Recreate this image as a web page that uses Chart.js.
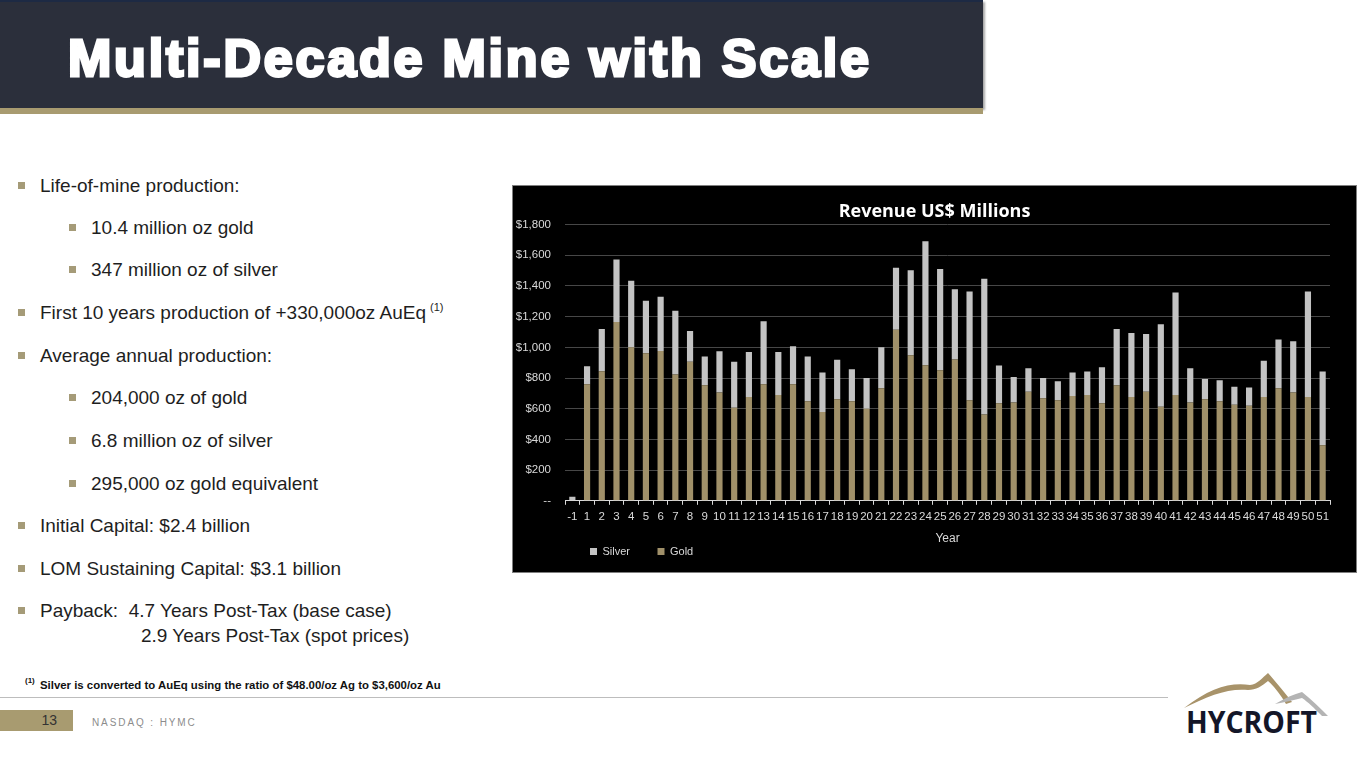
<!DOCTYPE html>
<html>
<head>
<meta charset="utf-8">
<script src="https://cdn.jsdelivr.net/npm/chart.js@4.4.1/dist/chart.umd.min.js"></script>
<style>
  html,body{margin:0;padding:0;background:#fff;}
  body{width:1364px;height:766px;position:relative;overflow:hidden;font-family:"Liberation Sans",Arial,sans-serif;}
  .titlebar{position:absolute;left:0;top:0;width:983px;height:108px;background:#2b2f3b;border-top:2px solid #1d2a44;box-sizing:border-box;box-shadow:2px 2px 2px rgba(0,0,0,.35);}
  .titlebar .strip{position:absolute;left:0;right:0;bottom:-6px;height:6px;background:#a89b70;}
  .titlebar h1{position:absolute;left:68px;top:26px;margin:0;color:#fff;font:bold 52px "Liberation Sans",Arial,sans-serif;letter-spacing:2.8px;-webkit-text-stroke:3px #fff;white-space:nowrap;}
  .bul{position:absolute;color:#1e1e1e;font-size:19px;white-space:nowrap;line-height:22px;}
  .bul.b:before{content:"";position:absolute;left:-22px;top:7px;width:7px;height:7px;background:#a59b78;}
  .l1{left:40px}
  .l2{left:91px}
  .bul sup{font-size:11px;line-height:0;vertical-align:8px;margin-left:4px;}
  #box{position:absolute;left:512px;top:185px;width:845px;height:388px;background:#000;border:1px solid #7f7f7f;box-sizing:border-box;}
  .foot{position:absolute;left:40px;top:679px;font:bold 11.4px "Liberation Sans",Arial,sans-serif;color:#111;white-space:nowrap;}
  .foot sup{position:absolute;left:-15px;top:-3px;font-size:8px;}
  .rule{position:absolute;left:0;top:697px;width:1168px;height:1px;background:#bdbdbd;}
  .pg{position:absolute;left:0;top:710px;width:73px;height:21px;background:#a89b70;color:#333;font-size:14px;line-height:21px;text-align:right;box-sizing:border-box;padding-right:16px;}
  .nas{position:absolute;left:92px;top:717px;font-size:10px;letter-spacing:1.9px;color:#8c8c8c;white-space:nowrap;}
  .logo{position:absolute;left:1180px;top:668px;}
</style>
</head>
<body>
<div class="titlebar"><h1>Multi-Decade Mine with Scale</h1><div class="strip"></div></div>

<div class="bul b l1" style="top:175px">Life-of-mine production:</div>
<div class="bul b l2" style="top:217px">10.4 million oz gold</div>
<div class="bul b l2" style="top:259px">347 million oz of silver</div>
<div class="bul b l1" style="top:302px">First 10 years production of +330,000oz AuEq<sup>(1)</sup></div>
<div class="bul b l1" style="top:345px">Average annual production:</div>
<div class="bul b l2" style="top:387px">204,000 oz of gold</div>
<div class="bul b l2" style="top:430px">6.8 million oz of silver</div>
<div class="bul b l2" style="top:473px">295,000 oz gold equivalent</div>
<div class="bul b l1" style="top:515px">Initial Capital: $2.4 billion</div>
<div class="bul b l1" style="top:558px">LOM Sustaining Capital: $3.1 billion</div>
<div class="bul b l1" style="top:600px">Payback:&nbsp; 4.7 Years Post-Tax (base case)</div>
<div class="bul" style="left:141px;top:625px">2.9 Years Post-Tax (spot prices)</div>

<div id="box"><canvas id="chart"></canvas></div>

<div class="foot"><sup>(1)</sup>Silver is converted to AuEq using the ratio of $48.00/oz Ag to $3,600/oz Au</div>
<div class="rule"></div>
<div class="pg">13</div>
<div class="nas">NASDAQ : HYMC</div>
<div class="logo">
  <svg width="160" height="70" viewBox="0 0 160 70">
    <path d="M4 40 C30 20 50 14 70 17 C78 16 82 10 88 5 C96 14 104 24 112 34 L106 36 C100 26 94 18 88 13 C82 18 76 22 68 22 C48 20 28 28 4 40 Z" fill="#a8936a"/>
    <path d="M95 36 C105 30 114 26 122 24 C132 32 140 40 148 48 L142 48 C134 40 128 34 122 30 C114 32 106 34 95 36 Z" fill="#b4b4b4"/>
    <text x="6" y="65" font-family="'Open Sans','Liberation Sans',sans-serif" font-weight="bold" font-size="30" fill="#141628" textLength="131" lengthAdjust="spacingAndGlyphs">HYCROFT</text>
  </svg>
</div>

<script>
// Revenue by year, US$ millions
const years = ['-1','1','2','3','4','5','6','7','8','9','10','11','12','13','14','15','16','17','18','19','20',
  '21','22','23','24','25','26','27','28','29','30','31','32','33','34','35','36','37','38','39','40',
  '41','42','43','44','45','46','47','48','49','50','51'];
const gold = [0,759,844,1165,1001,962,977,823,906,753,705,607,676,759,690,759,648,578,661,648,600,
  733,1115,949,884,851,921,655,563,635,641,711,668,655,683,690,635,753,676,711,613,
  690,641,661,648,626,620,676,733,705,676,362];
const silver = [26,118,275,408,433,341,352,416,200,187,270,299,293,411,279,249,292,258,258,210,201,
  268,404,554,807,659,458,709,884,247,166,153,133,124,153,152,236,366,417,376,537,
  667,223,133,138,118,118,236,319,334,688,480];
const yMax = 1800, yStep = 200;

const GOLD='#a09069', SILVER='#c3c3c3', AXIS='#d9d9d9';
const FONT='"Liberation Sans", Arial, sans-serif';

function money(v){ return v===0 ? '--' : '$'+v.toLocaleString('en-US'); }

// title centred on the whole box, legend starts under the plot
const boxShift = {
  id:'boxShift',
  beforeDraw(c){
    c.titleBlock.left = 0; c.titleBlock.right = c.width;
    c.legend.left = c.chartArea.left + 25;
  }
};

new Chart(document.getElementById('chart'), {
  type:'bar',
  data:{
    labels: years,
    datasets:[
      {label:'Gold', data:gold, backgroundColor:GOLD, barPercentage:0.42, categoryPercentage:1},
      {label:'Silver', data:silver, backgroundColor:SILVER, barPercentage:0.42, categoryPercentage:1}
    ]
  },
  options:{
    responsive:true, maintainAspectRatio:false, animation:false,
    layout:{padding:{left:0, right:26, bottom:5}},
    plugins:{
      title:{display:true, text:'Revenue US$ Millions', color:'#fff',
        font:{family:'"Open Sans", sans-serif', size:18, weight:'bold'}, padding:{top:15, bottom:2}},
      legend:{position:'bottom', align:'start', reverse:true,
        labels:{color:AXIS, boxWidth:7, boxHeight:7, padding:0, font:{family:FONT, size:11},
          generateLabels(c){
            const items = Chart.defaults.plugins.legend.labels.generateLabels(c);
            items.forEach(it=>{ it.text += '\u2003\u2003\u2002'; });
            return items;
          }}},
      tooltip:{enabled:false}
    },
    scales:{
      x:{stacked:true,
        grid:{display:true, drawOnChartArea:false, drawTicks:true, tickLength:4, color:AXIS, offset:true},
        border:{display:true, color:AXIS},
        ticks:{color:AXIS, font:{family:FONT, size:11.5}, padding:5, maxRotation:0, autoSkip:false},
        title:{display:true, text:'Year', color:AXIS, font:{family:FONT, size:12}, padding:{top:3, bottom:0}}
      },
      y:{stacked:true, min:0, max:yMax,
        afterFit(s){ s.width = 52; },
        grid:{color:'#474747', drawTicks:false},
        border:{display:false},
        ticks:{stepSize:yStep, color:AXIS, padding:14, font:{family:FONT, size:11.5}, callback:v=>money(v)}
      }
    }
  },
  plugins:[boxShift]
});
</script>
</body>
</html>
